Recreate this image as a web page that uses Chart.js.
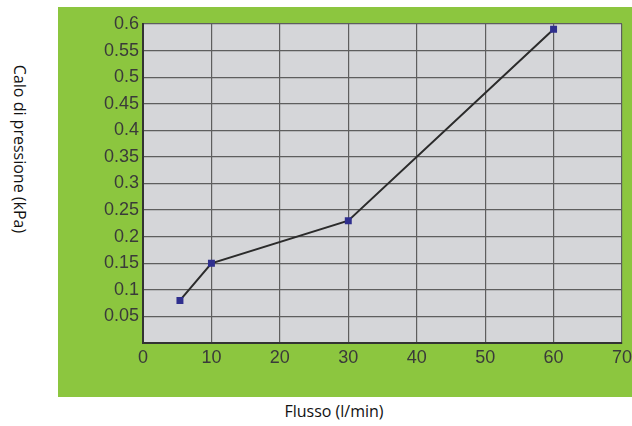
<!DOCTYPE html>
<html>
<head>
<meta charset="utf-8">
<script src="https://cdn.jsdelivr.net/npm/chart.js@4"></script>
<style>
  body { margin: 0; background: #fff; width: 632px; height: 426px; position: relative; overflow: hidden; }
  #box { position: absolute; left: 58px; top: 7px; width: 574px; height: 390px; background: #8cc63f; }
  .title { position: absolute; font-family: 'Open Sans', sans-serif; font-size: 16px; color: #111; white-space: nowrap; }
  #ytitle { left: 20px; top: 149px; transform: translate(-50%, -50%) rotate(90deg); }
  #xtitle { left: 334px; top: 411px; transform: translate(-50%, -50%); }
</style>
</head>
<body>
<div id="box"><canvas id="chart" width="574" height="390"></canvas></div>
<div id="ytitle" class="title">Calo di pressione (kPa)</div>
<div id="xtitle" class="title">Flusso (l/min)</div>
<script>
// flow rate (l/min) against pressure drop (kPa)
var flusso = [5.4, 10, 30, 60];
var caloPressione = [0.08, 0.15, 0.23, 0.59];

var points = [];
for (let i = 0; i < flusso.length; i++) {
  points.push({ x: flusso[i], y: caloPressione[i] });
}

// grey fill behind the plot area only
var plotBackground = {
  id: 'plotBackground',
  beforeDraw(chart) {
    var a = chart.chartArea;
    var ctx = chart.ctx;
    ctx.save();
    ctx.fillStyle = '#d5d6d9';
    ctx.fillRect(a.left, a.top, a.right - a.left, a.bottom - a.top);
    ctx.restore();
  }
};

var tickFont = { family: "'Liberation Sans', Arial, sans-serif", size: 18 };

new Chart(document.getElementById('chart'), {
  type: 'line',
  data: {
    datasets: [{
      data: points,
      borderColor: '#2b2b2b',
      borderWidth: 2,
      pointStyle: 'rect',
      pointRadius: 3.5,
      pointBackgroundColor: '#2f2f8e',
      pointBorderColor: '#2f2f8e',
      tension: 0
    }]
  },
  options: {
    responsive: false,
    animation: false,
    layout: { padding: { top: 17, right: 10, left: 0, bottom: 0 } },
    plugins: { legend: { display: false }, tooltip: { enabled: false } },
    scales: {
      x: {
        type: 'linear',
        min: 0,
        max: 70,
        ticks: { stepSize: 10, color: '#3a3a3a', font: tickFont, padding: 4 },
        grid: { color: '#5e5e5e', lineWidth: 1.2, drawTicks: false },
        border: { color: '#333', width: 2 },
        afterFit(scale) {
          scale.height = 54;
          // let the "70" label hang over the right edge
          scale.paddingLeft = 0;
          scale.paddingRight = 0;
        }
      },
      y: {
        min: 0,
        max: 0.6,
        ticks: {
          stepSize: 0.05,
          color: '#3a3a3a',
          font: tickFont,
          padding: 4,
          callback: function (v) {
            if (v === 0) return '';
            return String(Math.round(v * 100) / 100);
          }
        },
        grid: { color: '#5e5e5e', lineWidth: 1.2, drawTicks: false },
        border: { color: '#333', width: 2 },
        afterFit(scale) { scale.width = 85; }
      }
    }
  },
  plugins: [plotBackground]
});
</script>
</body>
</html>
